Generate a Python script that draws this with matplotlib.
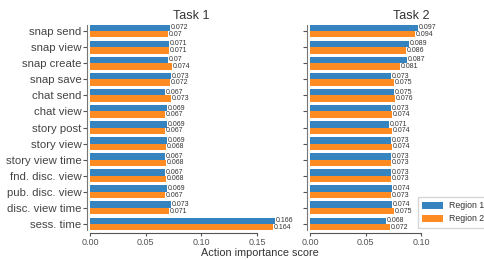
import numpy as np
import matplotlib
matplotlib.use("Agg")
import matplotlib.pyplot as plt

plt.rcParams['font.family'] = ['Liberation Sans', 'DejaVu Sans']
plt.rcParams['text.color'] = '#333333'
plt.rcParams['axes.labelcolor'] = '#333333'
plt.rcParams['xtick.color'] = '#555555'
plt.rcParams['ytick.color'] = '#555555'

actions = ['snap send', 'snap view', 'snap create', 'snap save', 'chat send',
           'chat view', 'story post', 'story view', 'story view time',
           'fnd. disc. view', 'pub. disc. view', 'disc. view time', 'sess. time']

task1_r1 = [0.072, 0.071, 0.07, 0.073, 0.067, 0.069, 0.069, 0.069, 0.067, 0.067, 0.069, 0.073, 0.166]
task1_r2 = [0.07, 0.071, 0.074, 0.072, 0.073, 0.067, 0.067, 0.068, 0.068, 0.068, 0.067, 0.071, 0.164]
task2_r1 = [0.097, 0.089, 0.087, 0.073, 0.075, 0.073, 0.071, 0.073, 0.073, 0.073, 0.074, 0.074, 0.068]
task2_r2 = [0.094, 0.086, 0.081, 0.075, 0.076, 0.074, 0.074, 0.074, 0.073, 0.073, 0.073, 0.075, 0.072]

blue = '#3584c0'
orange = '#ff8c23'

W, H = 484, 260
fig = plt.figure(figsize=(W / 100, H / 100), dpi=100)

def px(x0, y0, w, h):
    return [x0 / W, 1 - (y0 + h) / H, w / W, h / H]

ax1 = fig.add_axes(px(90, 23, 202, 209))
ax2 = fig.add_axes(px(310, 23, 202, 209))

y = np.arange(len(actions))
h = 0.4

panels = [(ax1, 'Task 1', task1_r1, task1_r2, 0.15),
          (ax2, 'Task 2', task2_r1, task2_r2, 0.10)]

for ax, title, r1, r2, xmax in panels:
    # spines first: set_position resets the ticks
    for s in ['top', 'right']:
        ax.spines[s].set_visible(False)
    ax.spines['left'].set_position(('outward', 2))
    ax.spines['bottom'].set_position(('outward', 1))
    ax.spines['left'].set_color('#777777')
    ax.spines['bottom'].set_color('#555555')

    b1 = ax.barh(y - h / 2, r1, height=h, color=blue, label='Region 1')
    b2 = ax.barh(y + h / 2, r2, height=h, color=orange, label='Region 2')
    ax.bar_label(b1, labels=[str(v) for v in r1], fontsize=5, padding=0.5, color='#333333')
    ax.bar_label(b2, labels=[str(v) for v in r2], fontsize=5, padding=0.5, color='#333333')
    ax.set_xlim(0, 0.1813)
    ax.set_ylim(len(actions) - 0.5, -0.5)
    ax.set_yticks(y)
    xt = np.arange(0, xmax + 0.001, 0.05)
    ax.set_xticks(xt)
    ax.set_xticklabels([f'{v:.2f}' for v in xt])
    ax.set_title(title, fontsize=9, pad=3)
    ax.spines['left'].set_bounds(len(actions) - 0.6, -0.4)
    ax.spines['bottom'].set_bounds(0, xmax)
    ax.tick_params(axis='y', length=3, width=0.8, pad=1, labelsize=8.2)
    ax.tick_params(axis='x', length=2, width=0.8, pad=1, labelsize=6.5,
                   labelcolor='#555555')

ax1.set_yticklabels(actions, color='#444444')
ax2.set_yticklabels([])

fig.legend(handles=[b1, b2], loc='upper left', bbox_to_anchor=(418 / W, 1 - 197 / H),
           fontsize=6.3, frameon=True, borderaxespad=0, handlelength=2.4,
           handleheight=0.9, handletextpad=0.6, borderpad=0.5, labelspacing=0.45,
           fancybox=False, edgecolor='#cccccc')

fig.text(260 / W, 1 - 253 / H, 'Action importance score', fontsize=7.8,
         ha='center', va='center')

fig.savefig('out.png', dpi=100)
